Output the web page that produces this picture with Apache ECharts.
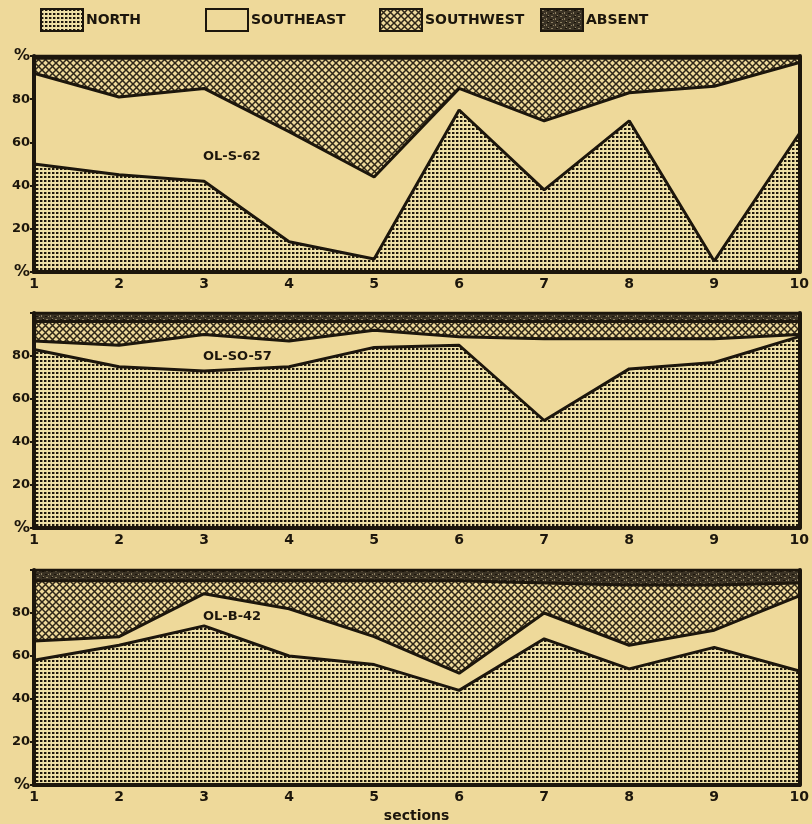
<!DOCTYPE html>
<html>
<head>
<meta charset="utf-8">
<title>sections</title>
<script src="https://cdn.jsdelivr.net/npm/echarts@6/dist/echarts.min.js"></script>
</head>
<body style="margin:0;padding:0;background:#eed99a">
<div id="main" style="width:812px;height:824px;"></div>
<script>
var sections = ['1', '2', '3', '4', '5', '6', '7', '8', '9', '10'];
var names = ['NORTH', 'SOUTHEAST', 'SOUTHWEST', 'ABSENT'];
var panelTitles = ['OL-S-62', 'OL-SO-57', 'OL-B-42'];

// OL-S-62
var s62North     = [50, 45, 42, 14,  6, 75, 38, 70,  5, 64];
var s62Southeast = [42, 36, 43, 51, 38, 10, 32, 13, 81, 33];
var s62Southwest = [ 7, 18, 14, 34, 55, 14, 29, 16, 13,  2];
var s62Absent    = [ 1,  1,  1,  1,  1,  1,  1,  1,  1,  1];

// OL-SO-57
var so57North     = [83, 75, 73, 75, 84, 85, 50, 74, 77, 89];
var so57Southeast = [ 4, 10, 17, 12,  8,  4, 38, 14, 11,  1];
var so57Southwest = [ 9, 11,  6,  9,  4,  7,  8,  8,  8,  6];
var so57Absent    = [ 4,  4,  4,  4,  4,  4,  4,  4,  4,  4];

// OL-B-42
var b42North     = [58, 65, 74, 60, 56, 44, 68, 54, 64, 53];
var b42Southeast = [ 9,  4, 15, 22, 13,  8, 12, 11,  8, 35];
var b42Southwest = [28, 26,  6, 13, 26, 43, 14, 28, 21,  6];
var b42Absent    = [ 5,  5,  5,  5,  5,  5,  6,  7,  7,  6];

var panels = [
    [s62North, s62Southeast, s62Southwest, s62Absent],
    [so57North, so57Southeast, so57Southwest, so57Absent],
    [b42North, b42Southeast, b42Southwest, b42Absent]
];

var ink = '#1c160c';
var paper = '#eed99a';

// fill textures
function dots() {
    var c = document.createElement('canvas');
    c.width = 4; c.height = 4;
    var g = c.getContext('2d');
    g.fillStyle = '#efe1a6';
    g.fillRect(0, 0, 4, 4);
    g.fillStyle = '#1e180c';
    g.fillRect(0, 0, 2, 2);
    g.fillStyle = '#9a8c68';
    g.fillRect(2, 0, 1, 2);
    return c;
}
function hatch() {
    var c = document.createElement('canvas');
    c.width = 7; c.height = 7;
    var g = c.getContext('2d');
    g.fillStyle = paper;
    g.fillRect(0, 0, 7, 7);
    g.strokeStyle = '#2e2618';
    g.lineWidth = 1.5;
    g.beginPath();
    g.moveTo(-1, -1); g.lineTo(8, 8);
    g.moveTo(8, -1); g.lineTo(-1, 8);
    g.stroke();
    return c;
}
function mottled() {
    var c = document.createElement('canvas');
    c.width = 9; c.height = 6;
    var g = c.getContext('2d');
    g.fillStyle = '#3a3224';
    g.fillRect(0, 0, 9, 6);
    g.fillStyle = '#8c7f62';
    g.fillRect(1, 1, 2, 1);
    g.fillRect(5, 3, 1, 2);
    g.fillRect(7, 0, 1, 1);
    g.fillRect(3, 4, 1, 1);
    g.fillStyle = '#1a140a';
    g.fillRect(6, 1, 2, 1);
    g.fillRect(0, 4, 2, 1);
    return c;
}

var fills = [
    {image: dots(), repeat: 'repeat'},
    paper,
    {image: hatch(), repeat: 'repeat'},
    {image: mottled(), repeat: 'repeat'}
];

var gridTops = [56, 313, 570];
var gridHeights = [216, 215, 218];

var grids = [], xAxes = [], yAxes = [], series = [], titles = [];
var titleTops = [150, 350, 610];

panels.forEach(function(panel, p) {
    grids.push({left: 34, right: 12, top: gridTops[p], height: gridHeights[p]});
    xAxes.push({
        type: 'category', gridIndex: p, data: sections, boundaryGap: false, z: 5,
        axisLine: {lineStyle: {color: ink, width: 4}},
        axisTick: {show: false},
        axisLabel: {color: ink, fontWeight: 'bold', fontSize: 14, fontFamily: 'DejaVu Sans', margin: 5},
        name: p === 2 ? 'sections' : '',
        nameLocation: 'middle', nameGap: 24,
        nameTextStyle: {color: ink, fontWeight: 'bold', fontSize: 14, fontFamily: 'DejaVu Sans'}
    });
    xAxes.push({
        type: 'category', gridIndex: p, data: sections, boundaryGap: false, position: 'top', z: 5,
        axisLine: {lineStyle: {color: ink, width: 4}},
        axisTick: {show: false}, axisLabel: {show: false}
    });
    yAxes.push({
        type: 'value', gridIndex: p, min: 0, max: 100, interval: 20, z: 5,
        splitLine: {show: false},
        axisLine: {show: true, lineStyle: {color: ink, width: 4}},
        axisTick: {show: true, length: 4, lineStyle: {color: ink, width: 2}},
        axisLabel: {
            color: ink, fontWeight: 'bold', fontSize: 13, fontFamily: 'DejaVu Sans', margin: 4,
            formatter: function(v) {
                if (v === 0) return '{p|%}';
                if (v === 100) return p === 0 ? '{p|%}' : '';
                return v;
            },
            rich: {p: {fontSize: 16, fontWeight: 'bold', color: ink, fontFamily: 'DejaVu Sans'}}
        }
    });
    yAxes.push({
        type: 'value', gridIndex: p, min: 0, max: 100, position: 'right', z: 5,
        splitLine: {show: false},
        axisLine: {show: true, lineStyle: {color: ink, width: 4}},
        axisTick: {show: false}, axisLabel: {show: false}
    });
    panel.forEach(function(vals, k) {
        series.push({
            name: names[k],
            type: 'line',
            xAxisIndex: p * 2,
            yAxisIndex: p * 2,
            stack: 'panel' + p,
            data: vals,
            showSymbol: false,
            silent: true,
            itemStyle: {color: fills[k]},
            lineStyle: {color: ink, width: 3},
            areaStyle: {color: fills[k], opacity: 1}
        });
    });
    titles.push({
        text: panelTitles[p], left: 203, top: titleTops[p], padding: 0,
        textStyle: {color: ink, fontWeight: 'bold', fontSize: 13, fontFamily: 'DejaVu Sans'}
    });
});

var legendLefts = [35, 200, 374, 535];
var legends = names.map(function(n, k) {
    return {
        left: legendLefts[k], top: 3, itemWidth: 42, itemHeight: 22, itemGap: 4,
        selectedMode: false,
        data: [{name: n, icon: 'rect', itemStyle: {color: fills[k], borderColor: ink, borderWidth: 2}}],
        textStyle: {color: ink, fontWeight: 'bold', fontSize: 14, fontFamily: 'DejaVu Sans', padding: [0, 0, 0, -2]}
    };
});

var myChart = echarts.init(document.getElementById('main'));
myChart.setOption({
    backgroundColor: paper,
    animation: false,
    title: titles,
    legend: legends,
    grid: grids,
    xAxis: xAxes,
    yAxis: yAxes,
    series: series
});
</script>
</body>
</html>
